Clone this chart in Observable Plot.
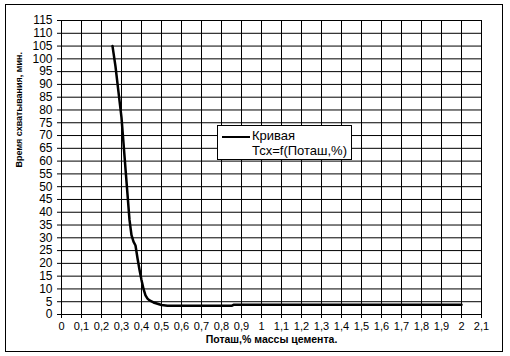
<!DOCTYPE html>
<html>
<head>
<meta charset="utf-8">
<script src="https://cdn.jsdelivr.net/npm/d3@7"></script>
<script src="https://cdn.jsdelivr.net/npm/@observablehq/plot@0.6"></script>
<style>
  body { margin: 0; background: #fff; }
  #wrap { position: relative; width: 510px; height: 356px; background: #fff; font-family: "Liberation Sans", Arial, sans-serif; color: #000; }
  #border { position: absolute; left: 5px; top: 4px; width: 496px; height: 346px; border: 1px solid #000; pointer-events: none; }
  #legend { position: absolute; left: 217px; top: 125px; border: 1px solid #000; background: #fff; padding: 2px 4px 1px 4px; font-size: 13px; line-height: 15px; display: flex; align-items: flex-start; }
  #legend .sw { width: 28px; height: 0; border-top: 2px solid #000; margin-top: 8px; margin-right: 2px; }
  svg { position: absolute; left: 0; top: 0; }
</style>
</head>
<body>
<div id="wrap">
  <div id="chart"></div>
  <div id="border"></div>
  <div id="legend"><div class="sw"></div><div id="legtext"></div></div>
</div>
<script>
// Potash dose (% of cement mass) and setting time (min)
const potash = [0.255, 0.27, 0.285, 0.30, 0.31, 0.32, 0.33, 0.34, 0.35, 0.36, 0.37, 0.38, 0.39, 0.40, 0.41, 0.42, 0.43, 0.44, 0.46, 0.48, 0.50, 0.53, 0.85, 0.86, 2.0];
const setTime = [105, 97, 87, 77, 67, 57, 47, 37, 31, 28.5, 27, 22, 17.5, 13.5, 10, 7.5, 6.2, 5.5, 4.7, 4.2, 3.7, 3.4, 3.4, 3.8, 3.8];
const xTicks = [0, 0.1, 0.2, 0.3, 0.4, 0.5, 0.6, 0.7, 0.8, 0.9, 1, 1.1, 1.2, 1.3, 1.4, 1.5, 1.6, 1.7, 1.8, 1.9, 2, 2.1];
const yTicks = [0, 5, 10, 15, 20, 25, 30, 35, 40, 45, 50, 55, 60, 65, 70, 75, 80, 85, 90, 95, 100, 105, 110, 115];
const xTitle = "Поташ,% массы цемента.";
const yTitle = "Время схватывания, мин.";
const legendLines = ["Кривая", "Тсх=f(Поташ,%)"];

const data = potash.map((x, i) => ({x, y: setTime[i]}));
const fmt = d => String(Math.round(d * 10) / 10).replace(".", ",");

const chart = Plot.plot({
  width: 510,
  height: 356,
  marginLeft: 61,
  marginRight: 29,
  marginTop: 20,
  marginBottom: 42,
  style: {fontFamily: "'Liberation Sans', Arial, sans-serif", fontSize: "11px", color: "#000", background: "transparent", overflow: "visible"},
  x: {domain: [0, 2.1], ticks: xTicks},
  y: {domain: [0, 115], ticks: yTicks},
  marks: [
    Plot.gridX(xTicks, {stroke: "#000", strokeOpacity: 1, strokeWidth: 1}),
    Plot.gridY(yTicks, {stroke: "#000", strokeOpacity: 1, strokeWidth: 1}),
    Plot.frame({stroke: "#000", strokeWidth: 1}),
    Plot.axisX(xTicks, {tickSize: 4, tickPadding: 4, tickFormat: fmt, label: null, fontSize: 11}),
    Plot.axisY(yTicks, {tickSize: 4, tickPadding: 5, tickFormat: fmt, label: null, fontSize: 12}),
    Plot.line(data, {x: "x", y: "y", stroke: "#000", strokeWidth: 2.5, curve: "linear"}),
    Plot.text([xTitle], {frameAnchor: "bottom", dy: 28, fontWeight: "bold", fontSize: 10.5, fill: "#000"}),
    Plot.text([yTitle], {frameAnchor: "left", dx: -42, rotate: -90, fontWeight: "bold", fontSize: 9, fill: "#000"})
  ]
});
document.getElementById("chart").appendChild(chart);
document.getElementById("legtext").innerHTML = legendLines.join("<br>");
</script>
</body>
</html>
